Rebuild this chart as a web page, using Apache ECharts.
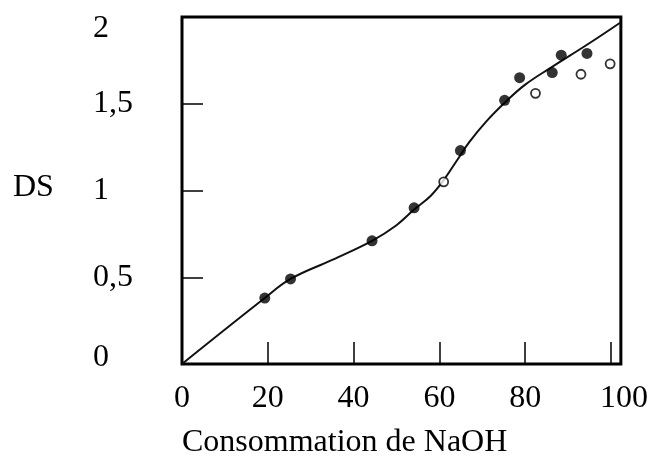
<!DOCTYPE html>
<html>
<head>
<meta charset="utf-8">
<script src="https://cdn.jsdelivr.net/npm/echarts@6/dist/echarts.min.js"></script>
<style>
html,body{margin:0;padding:0;background:#fff;}
#chart{width:651px;height:463px;}
</style>
</head>
<body>
<div id="chart"></div>
<script>
// Data
const xTitle = 'Consommation de NaOH';
const yTitle = 'DS';
const xTicks = [0, 20, 40, 60, 80, 100];
const yTicks = ['0', '0,5', '1', '1,5', '2'];

// fitted curve
const curveX = [0, 19.3, 25.3, 35, 44.3, 50, 54.1, 58, 61, 64, 67, 71, 75.4, 80, 86.1, 94.4, 102.3];
const curveY = [0, 0.38, 0.49, 0.60, 0.71, 0.80, 0.89, 0.97, 1.06, 1.17, 1.28, 1.40, 1.51, 1.61, 1.71, 1.84, 1.97];

// filled circles
const filledX = [19.3, 25.3, 44.3, 54.1, 64.9, 75.2, 78.7, 86.3, 88.4, 94.4];
const filledY = [0.38, 0.49, 0.71, 0.90, 1.23, 1.52, 1.65, 1.68, 1.78, 1.79];

// open circles
const openX = [61.0, 82.4, 93.0, 99.8];
const openY = [1.05, 1.56, 1.67, 1.73];

const pair = (xs, ys) => xs.map((x, i) => [x, ys[i]]);
const FONT = 'Liberation Serif';
const FS = 32;

const chart = echarts.init(document.getElementById('chart'), null, {renderer: 'canvas'});
chart.setOption({
  animation: false,
  backgroundColor: '#fff',
  title: [
    {text: xTitle, left: 182, top: 427, padding: 0,
     textStyle: {fontFamily: FONT, fontSize: FS, fontWeight: 'normal', color: '#000'}},
    {text: yTitle, left: 13, top: 172, padding: 0,
     textStyle: {fontFamily: FONT, fontSize: FS, fontWeight: 'normal', color: '#000'}}
  ],
  grid: {left: 182, top: 17, right: 28, bottom: 99, show: true,
         borderColor: '#000', borderWidth: 3, backgroundColor: 'transparent'},
  xAxis: {
    type: 'value', min: 0, max: 102.3, interval: 20,
    axisLine: {show: false},
    splitLine: {show: false},
    axisTick: {show: true, inside: true, length: 22, lineStyle: {color: '#000', width: 1.5}},
    axisLabel: {
      margin: 19, color: '#000', fontFamily: FONT, fontSize: FS,
      formatter: function (v) {
        const k = xTicks.indexOf(Math.round(v));
        if (k < 0 || Math.abs(v - xTicks[k]) > 1e-6) return '';
        if (xTicks[k] === 100) return '{r|100}';
        return String(xTicks[k]);
      },
      rich: {r: {fontFamily: FONT, fontSize: FS, color: '#000', padding: [0, 0, 0, 26]}}
    }
  },
  yAxis: {
    type: 'value', min: 0, max: 2, interval: 0.5,
    axisLine: {show: false},
    splitLine: {show: false},
    axisTick: {show: true, inside: true, length: 21, lineStyle: {color: '#000', width: 1.5}},
    axisLabel: {
      margin: 89, align: 'left', color: '#000', fontFamily: FONT, fontSize: FS,
      formatter: function (v) {
        const idx = Math.round(v / 0.5);
        const s = yTicks[idx];
        if (idx === 0) return '{b|' + s + '}';
        if (idx === yTicks.length - 1) return '{t|' + s + '}';
        return s;
      },
      rich: {
        b: {fontFamily: FONT, fontSize: FS, color: '#000', padding: [0, 0, 12, 0]},
        t: {fontFamily: FONT, fontSize: FS, color: '#000', padding: [24, 0, 0, 0]}
      }
    }
  },
  series: [
    {type: 'line', data: pair(curveX, curveY), smooth: 0.4, symbol: 'none',
     lineStyle: {color: '#111', width: 2}, z: 2},
    {type: 'scatter', data: pair(filledX, filledY), symbol: 'circle', symbolSize: 11,
     itemStyle: {color: '#000'}, z: 3},
    {type: 'scatter', data: pair(openX, openY), symbol: 'circle', symbolSize: 9,
     itemStyle: {color: '#fff', borderColor: '#000', borderWidth: 1.8}, z: 3}
  ]
});
</script>
</body>
</html>
